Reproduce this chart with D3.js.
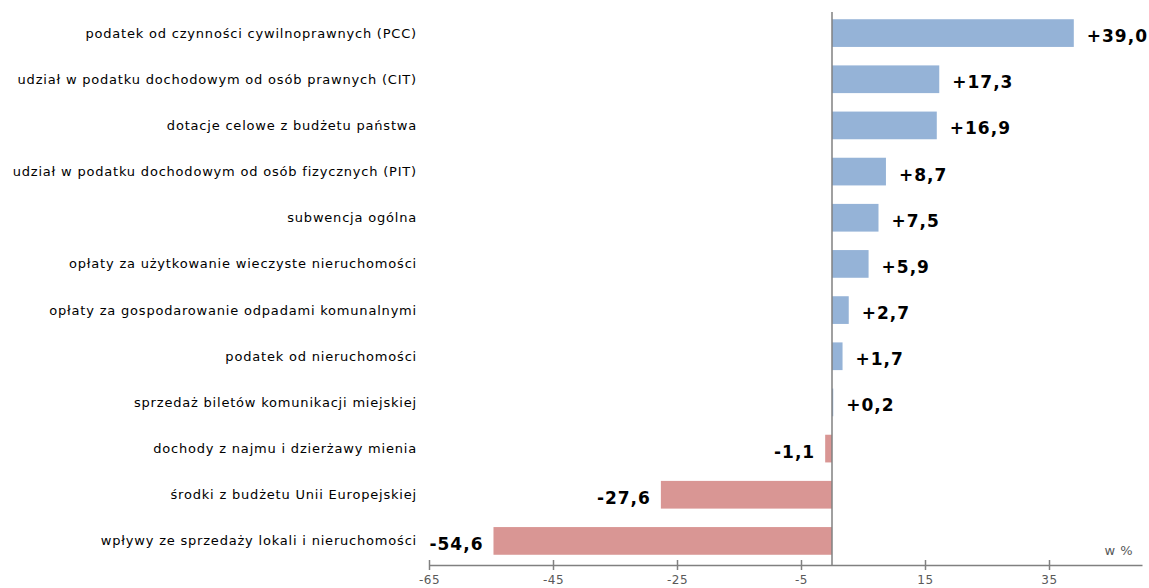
<!DOCTYPE html>
<html>
<head>
<meta charset="utf-8">
<script src="https://cdn.jsdelivr.net/npm/d3@7"></script>
<style>
  body { margin: 0; background: #fff; }
  svg text { font-family: 'DejaVu Sans', Verdana, sans-serif; }
</style>
</head>
<body>
<div class="visual"></div>
<script>
const [width, height] = [1149, 588];

const categories = [
  'podatek od czynności cywilnoprawnych (PCC)',
  'udział w podatku dochodowym od osób prawnych (CIT)',
  'dotacje celowe z budżetu państwa',
  'udział w podatku dochodowym od osób fizycznych (PIT)',
  'subwencja ogólna',
  'opłaty za użytkowanie wieczyste nieruchomości',
  'opłaty za gospodarowanie odpadami komunalnymi',
  'podatek od nieruchomości ',
  'sprzedaż biletów komunikacji miejskiej',
  'dochody z najmu i dzierżawy mienia',
  'środki z budżetu Unii Europejskiej',
  'wpływy ze sprzedaży lokali i nieruchomości',
];
const values = [39.0, 17.3, 16.9, 8.7, 7.5, 5.9, 2.7, 1.7, 0.2, -1.1, -27.6, -54.6];
const tick_values = [-65, -45, -25, -5, 15, 35];

const fmt = (v) => (v > 0 ? '+' : v < 0 ? '-' : '') + Math.abs(v).toFixed(1).replace('.', ',');

const svg = d3
  .select('.visual')
  .append('svg')
  .attr('width', width)
  .attr('height', height);

const x_scale = d3.scaleLinear().domain([-65, 50]).range([429, 1142]);
const y_scale = d3
  .scaleBand()
  .domain(categories)
  .range([10, 564])
  .paddingInner(0.4)
  .paddingOuter(0.2);

const axis_y = 565;
const x_axis = d3
  .axisBottom(x_scale)
  .tickValues(tick_values)
  .tickSize(0)
  .tickPadding(10)
  .tickFormat((d) => String(d));

const gx = svg
  .append('g')
  .attr('id', 'x-axis')
  .attr('transform', `translate(0, ${axis_y})`)
  .call(x_axis);
gx.select('.domain').attr('stroke', '#808080').attr('stroke-width', 1.5);
gx.selectAll('.tick line').attr('y1', -5).attr('y2', 5).attr('stroke', '#808080').attr('stroke-width', 1.5);
gx.selectAll('.tick text')
  .attr('fill', '#595959')
  .style('font-size', '12px')
  .style('letter-spacing', '0.5px');

// bars
svg
  .selectAll('rect.bar')
  .data(values)
  .enter()
  .append('rect')
  .attr('class', 'bar')
  .attr('x', (d) => x_scale(Math.min(0, d)))
  .attr('y', (d, i) => y_scale(categories[i]))
  .attr('width', (d) => Math.abs(x_scale(d) - x_scale(0)))
  .attr('height', y_scale.bandwidth())
  .attr('fill', (d) => (d >= 0 ? '#95b3d7' : '#d99694'));

// zero line
svg
  .append('line')
  .attr('x1', x_scale(0))
  .attr('x2', x_scale(0))
  .attr('y1', 12)
  .attr('y2', axis_y)
  .attr('stroke', '#808080')
  .attr('stroke-width', 1.5);

// category labels
svg
  .selectAll('text.cat')
  .data(categories)
  .enter()
  .append('text')
  .attr('class', 'cat')
  .attr('x', 417)
  .attr('y', (d) => y_scale(d) + y_scale.bandwidth() / 2)
  .attr('dy', '0.35em')
  .attr('text-anchor', 'end')
  .attr('fill', '#000')
  .style('font-size', '13px')
  .style('letter-spacing', '0.8px')
  .text((d) => d);

// value labels
svg
  .selectAll('text.val')
  .data(values)
  .enter()
  .append('text')
  .attr('class', 'val')
  .attr('x', (d) => (d >= 0 ? x_scale(d) + 13 : x_scale(d) - 10))
  .attr('y', (d, i) => y_scale(categories[i]) + y_scale.bandwidth() / 2 + 3)
  .attr('dy', '0.35em')
  .attr('text-anchor', (d) => (d >= 0 ? 'start' : 'end'))
  .attr('fill', '#000')
  .style('font-size', '17px')
  .style('font-weight', 'bold')
  .style('letter-spacing', '1px')
  .text((d) => fmt(d));

svg
  .append('text')
  .attr('x', 1133)
  .attr('y', 555)
  .attr('text-anchor', 'end')
  .attr('fill', '#595959')
  .style('font-size', '13px')
  .style('letter-spacing', '0.5px')
  .text('w %');
</script>
</body>
</html>
